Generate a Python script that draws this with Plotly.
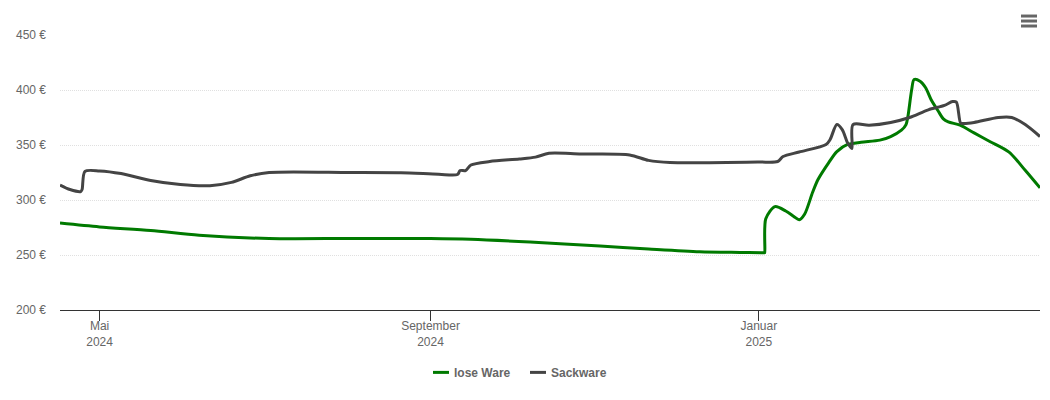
import plotly.graph_objects as go

lose_dates = ["2024-04-16 07:00","2024-05-01","2024-05-20","2024-06-07","2024-07-03","2024-08-02","2024-09-01","2024-09-16","2024-10-08","2024-11-03","2024-11-21","2024-12-10","2024-12-25","2025-01-02","2025-01-03 03:00","2025-01-03 05:00","2025-01-03 14:00","2025-01-07","2025-01-11","2025-01-14","2025-01-16","2025-01-18","2025-01-21","2025-01-23","2025-01-27","2025-01-30","2025-02-03","2025-02-08","2025-02-15","2025-02-19","2025-02-23","2025-02-24 17:00","2025-02-25 10:00","2025-02-26 19:00","2025-02-27 17:00","2025-03-01 22:00","2025-03-04","2025-03-06","2025-03-08 17:00","2025-03-10 14:00","2025-03-12 10:00","2025-03-16 19:00","2025-03-22","2025-03-28","2025-04-04","2025-04-10","2025-04-15 12:00"]
lose_values = [279,275.5,272.3,268,265,265,265,264.3,261.8,258.2,255.5,253,252.3,252,252,252,283,294,290,285,282,287,307,318.6,334,344,350.5,352.5,354.4,357.7,363.5,368.6,376,400,409.5,408,402,391.4,380.7,373.8,371,368,361,353,343.5,327,311]

sack_dates = ["2024-04-16 07:00","2024-04-20","2024-04-24","2024-04-24 12:00","2024-04-25 14:00","2024-05-01","2024-05-09","2024-05-20","2024-05-31","2024-06-11","2024-06-19","2024-06-26","2024-07-03","2024-08-02","2024-08-21","2024-09-04","2024-09-11","2024-09-12","2024-09-14","2024-09-16","2024-09-23","2024-10-04","2024-10-10","2024-10-15","2024-10-27","2024-11-14","2024-11-21","2024-11-29","2025-01-01","2025-01-08","2025-01-10","2025-01-16","2025-01-26","2025-01-27 12:00","2025-01-30","2025-02-01","2025-02-03","2025-02-04 14:00","2025-02-05","2025-02-11","2025-02-19","2025-02-26","2025-03-05","2025-03-11","2025-03-14","2025-03-15 10:00","2025-03-17","2025-03-18","2025-03-22","2025-03-31","2025-04-05","2025-04-10","2025-04-15 12:00"]
sack_values = [313.6,309.5,307.7,309.5,326,326.4,324,317.7,314,313,316,322,325,325,324.8,323.4,323.2,326.8,326.8,331.8,335,337.3,339,342.4,341.8,341,336,334,334.5,335,339.5,343.6,350.5,355,368.6,364,352,346.8,368.6,368,370.5,375,382,386,389.5,389,370,369.6,370.5,375,375,368.6,357.7]

x_tick_vals = ["2024-05-01","2024-09-01","2025-01-01"]
x_tick_text = ["Mai<br>2024","September<br>2024","Januar<br>2025"]
y_tick_vals = [200,250,300,350,400,450]
y_tick_text = ["200 €","250 €","300 €","350 €","400 €","450 €"]
legend_names = ["lose Ware","Sackware"]
line_colors = ["#007a00","#444444"]

FONT = "Liberation Sans, Arial, sans-serif"
fig = go.Figure()
fig.add_trace(go.Scatter(x=lose_dates, y=lose_values, name=legend_names[0], mode="lines", showlegend=False,
                         line=dict(color=line_colors[0], width=3, shape="spline", smoothing=0.8)))
fig.add_trace(go.Scatter(x=sack_dates, y=sack_values, name=legend_names[1], mode="lines", showlegend=False,
                         line=dict(color=line_colors[1], width=3, shape="spline", smoothing=0.8)))

W, H = 1050, 400
L, R, T, B = 60, 1040, 35, 310.5
px = lambda v: (v-L)/(R-L)
py = lambda v: (B-v)/(B-T)
shapes = []
for cy in (16, 21, 26):
    shapes.append(dict(type="rect", xref="paper", yref="paper", x0=px(1021), x1=px(1037),
                       y0=py(cy+1.5), y1=py(cy-1.5), fillcolor="#666666", line_width=0))
annotations = []
for name, color, x0 in zip(legend_names, line_colors, (433, 530)):
    shapes.append(dict(type="line", xref="paper", yref="paper", x0=px(x0), x1=px(x0+16),
                       y0=py(373), y1=py(373), line=dict(color=color, width=3)))
    annotations.append(dict(xref="paper", yref="paper", x=px(x0+20), y=py(373.5), text=name,
                            showarrow=False, xanchor="left", yanchor="middle",
                            borderpad=0, font=dict(family=FONT, size=12, color="#666666", weight="bold")))

fig.update_layout(
    width=W, height=H, autosize=False,
    margin=dict(l=L, r=W-R, t=T, b=H-B, pad=0),
    paper_bgcolor="white", plot_bgcolor="white",
    font=dict(family=FONT, size=12, color="#666666"),
    shapes=shapes, annotations=annotations, showlegend=False,
    xaxis=dict(range=["2024-04-16 07:00","2025-04-15 12:00"], tickmode="array",
               tickvals=x_tick_vals, ticktext=x_tick_text, ticks="outside", ticklen=10,
               tickwidth=1, tickcolor="#333333", showline=True, linecolor="#333333",
               linewidth=1, showgrid=False, zeroline=False, tickangle=0, ticklabelstandoff=-5),
    yaxis=dict(range=[200,450], tickmode="array", tickvals=y_tick_vals, ticktext=y_tick_text,
               showgrid=True, gridcolor="#e0e0e0", griddash="1px,1px", gridwidth=1,
               zeroline=False, showline=False, ticks="", ticklabelstandoff=13),
)
fig.write_html("out.html", config=dict(displayModeBar=False),
               post_script="document.body.style.margin='0';")
